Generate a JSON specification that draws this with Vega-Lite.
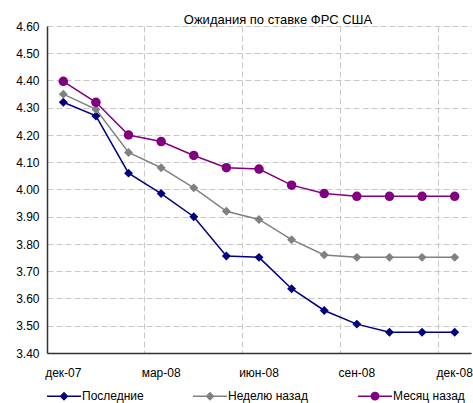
{
  "$schema": "https://vega.github.io/schema/vega-lite/v6.json",
  "width": 424,
  "height": 327,
  "autosize": {"type": "none"},
  "padding": {"left": 47, "top": 26, "right": 2, "bottom": 50},
  "background": "white",
  "title": {"text": "Ожидания по ставке ФРС США", "fontSize": 13, "font": "Liberation Sans", "fontWeight": "normal", "color": "#000000", "anchor": "middle", "dx": 19, "offset": -7},
  "config": {
    "view": {"stroke": null},
    "font": "Liberation Sans",
    "axis": {"labelFont": "Liberation Sans", "labelFontSize": 12, "labelColor": "#000000", "ticks": false, "domainColor": "#333333", "domainWidth": 1.5, "gridColor": "#c8c8c8", "gridDash": [6, 3], "gridWidth": 1, "title": null}
  },
  "data": {"values": [
    {"month": "дек-07", "series": "Последние", "value": 4.32},
    {"month": "янв-08", "series": "Последние", "value": 4.27},
    {"month": "фев-08", "series": "Последние", "value": 4.06},
    {"month": "мар-08", "series": "Последние", "value": 3.985},
    {"month": "апр-08", "series": "Последние", "value": 3.90},
    {"month": "май-08", "series": "Последние", "value": 3.756},
    {"month": "июн-08", "series": "Последние", "value": 3.751},
    {"month": "июл-08", "series": "Последние", "value": 3.636},
    {"month": "авг-08", "series": "Последние", "value": 3.556},
    {"month": "сен-08", "series": "Последние", "value": 3.506},
    {"month": "окт-08", "series": "Последние", "value": 3.476},
    {"month": "ноя-08", "series": "Последние", "value": 3.476},
    {"month": "дек-08", "series": "Последние", "value": 3.476},
    {"month": "дек-07", "series": "Неделю назад", "value": 4.35},
    {"month": "янв-08", "series": "Неделю назад", "value": 4.294},
    {"month": "фев-08", "series": "Неделю назад", "value": 4.136},
    {"month": "мар-08", "series": "Неделю назад", "value": 4.08},
    {"month": "апр-08", "series": "Неделю назад", "value": 4.006},
    {"month": "май-08", "series": "Неделю назад", "value": 3.92},
    {"month": "июн-08", "series": "Неделю назад", "value": 3.89},
    {"month": "июл-08", "series": "Неделю назад", "value": 3.816},
    {"month": "авг-08", "series": "Неделю назад", "value": 3.76},
    {"month": "сен-08", "series": "Неделю назад", "value": 3.751},
    {"month": "окт-08", "series": "Неделю назад", "value": 3.751},
    {"month": "ноя-08", "series": "Неделю назад", "value": 3.751},
    {"month": "дек-08", "series": "Неделю назад", "value": 3.751},
    {"month": "дек-07", "series": "Месяц назад", "value": 4.397},
    {"month": "янв-08", "series": "Месяц назад", "value": 4.32},
    {"month": "фев-08", "series": "Месяц назад", "value": 4.20},
    {"month": "мар-08", "series": "Месяц назад", "value": 4.176},
    {"month": "апр-08", "series": "Месяц назад", "value": 4.125},
    {"month": "май-08", "series": "Месяц назад", "value": 4.08},
    {"month": "июн-08", "series": "Месяц назад", "value": 4.075},
    {"month": "июл-08", "series": "Месяц назад", "value": 4.016},
    {"month": "авг-08", "series": "Месяц назад", "value": 3.985},
    {"month": "сен-08", "series": "Месяц назад", "value": 3.975},
    {"month": "окт-08", "series": "Месяц назад", "value": 3.975},
    {"month": "ноя-08", "series": "Месяц назад", "value": 3.975},
    {"month": "дек-08", "series": "Месяц назад", "value": 3.975}
  ]},
  "encoding": {
    "x": {"field": "month", "type": "ordinal", "sort": null,
      "scale": {"type": "band", "paddingInner": 0, "paddingOuter": 0},
      "axis": {"values": ["дек-07", "мар-08", "июн-08", "сен-08", "дек-08"], "labelAngle": 0, "bandPosition": 0, "grid": true, "labelPadding": 14, "labelOverlap": false, "labelBound": false}},
    "y": {"field": "value", "type": "quantitative",
      "scale": {"domain": [3.4, 4.6], "nice": false, "zero": false},
      "axis": {"values": [3.4, 3.5, 3.6, 3.7, 3.8, 3.9, 4.0, 4.1, 4.2, 4.3, 4.4, 4.5, 4.6], "format": ".2f", "grid": true, "labelPadding": 8}},
    "color": {"field": "series", "type": "nominal",
      "scale": {"domain": ["Последние", "Неделю назад", "Месяц назад"], "range": ["#000080", "#808080", "#800080"]},
      "legend": {"title": null, "orient": "none", "legendX": -1, "legendY": 352, "direction": "horizontal", "columns": 3, "columnPadding": 46, "padding": 0,
        "labelFont": "Liberation Sans", "labelFontSize": 12, "labelColor": "#000000", "labelOffset": 0, "symbolSize": 1156, "symbolStrokeWidth": 1.5,
        "encode": {"symbols": {"update": {
          "shape": {"signal": "datum.value === 'Месяц назад' ? 'M-1,0H1M-0.22,0A0.22,0.22 0 1 0 0.22,0A0.22,0.22 0 1 0 -0.22,0Z' : 'M-1,0H1M0,-0.2L0.2,0L0,0.2L-0.2,0Z'"},
          "stroke": {"scale": "color", "field": "value"},
          "fill": {"scale": "color", "field": "value"},
          "opacity": {"value": 1}
        }}}}}
  },
  "layer": [
    {"mark": {"type": "line", "strokeWidth": 1.5}},
    {"transform": [{"filter": "datum.series !== 'Месяц назад'"}],
      "mark": {"type": "point", "filled": true, "opacity": 1, "shape": "diamond", "size": 80}},
    {"transform": [{"filter": "datum.series === 'Месяц назад'"}],
      "mark": {"type": "point", "filled": true, "opacity": 1, "shape": "circle", "size": 90}}
  ]
}
